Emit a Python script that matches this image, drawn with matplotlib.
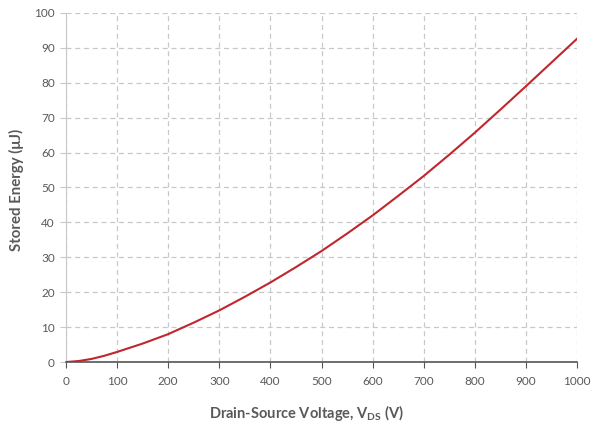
import numpy as np
import matplotlib
matplotlib.use("Agg")
import matplotlib.pyplot as plt

plt.rcParams['font.family'] = ['Lato', 'DejaVu Sans']
plt.rcParams['mathtext.fontset'] = 'custom'
plt.rcParams['mathtext.rm'] = 'Lato'
plt.rcParams['mathtext.bf'] = 'Lato:bold'

# drain-source voltage (V) and stored energy (uJ)
vds = [0, 25, 50, 75, 100, 150, 200, 250, 300, 350, 400, 450, 500,
       550, 600, 650, 700, 750, 800, 850, 900, 950, 1000]
eoss = [0, 0.3, 0.9, 1.8, 2.9, 5.3, 8.0, 11.3, 14.8, 18.7, 22.8, 27.2, 31.8,
        36.8, 42.0, 47.6, 53.3, 59.4, 65.7, 72.3, 79.0, 85.8, 92.6]

xticks = np.arange(0, 1001, 100)
yticks = np.arange(0, 101, 10)

fig = plt.figure(figsize=(5.97, 4.30), dpi=100)
ax = fig.add_axes([0.1106, 0.158, 0.856, 0.812])

ax.plot(vds, eoss, color='#c0262d', lw=1.5, zorder=3)

ax.set_xlim(0, 1000)
ax.set_ylim(0, 100)
ax.set_xticks(xticks)
ax.set_yticks(yticks)
ax.grid(True, color='#c8c8c8', ls=(0, (4, 3)), lw=0.9)

for s in ['top', 'right']:
    ax.spines[s].set_visible(False)
ax.spines['left'].set_color('#c8c8c8')
ax.spines['bottom'].set_color('#555555')
ax.spines['bottom'].set_linewidth(1.2)
ax.tick_params(axis='x', colors='#555555', length=4, labelsize=8.5, pad=6,
               labelcolor='#595959')
ax.tick_params(axis='y', colors='#c8c8c8', length=4, labelsize=8.5, pad=4,
               labelcolor='#595959')

ax.set_ylabel('Stored Energy (μJ)', fontsize=10.8, fontweight='bold',
              color='#595959')
ax.yaxis.set_label_coords(-0.083, 0.493)
ax.set_xlabel(r'Drain-Source Voltage, V$_\mathbf{DS}$ (V)', fontsize=10.5,
              fontweight='bold', color='#595959')
ax.xaxis.set_label_coords(0.47, -0.118)

fig.savefig('out.png', dpi=100)
